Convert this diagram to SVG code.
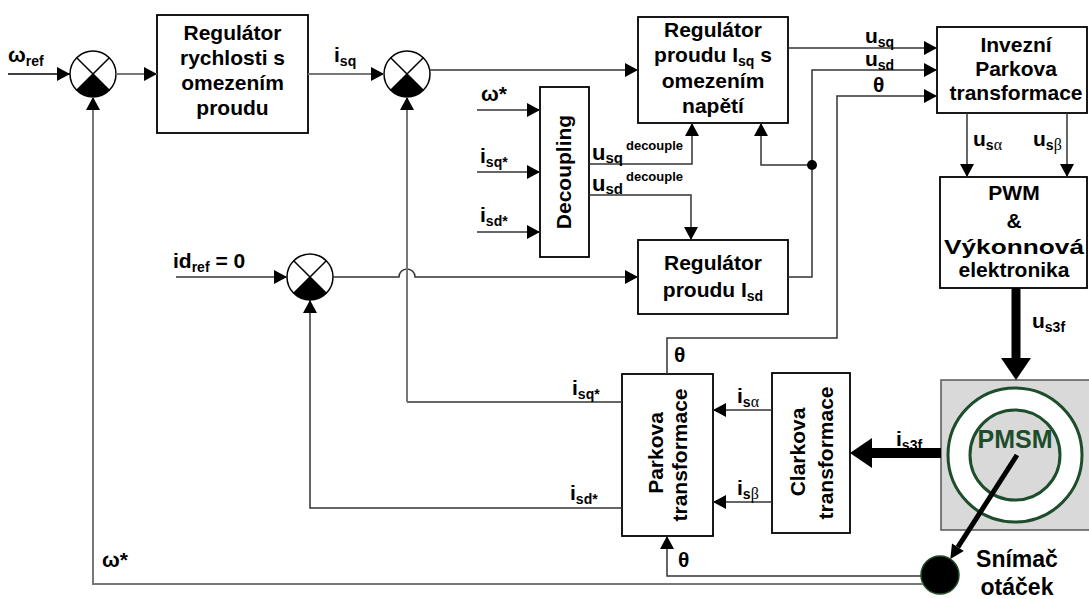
<svg xmlns="http://www.w3.org/2000/svg" xmlns:xlink="http://www.w3.org/1999/xlink" width="1089" height="599" viewBox="0 0 1089 599">
<style>
text{font-family:"Liberation Sans",Arial,sans-serif;font-weight:bold;fill:#000}
.bt{font-size:21px;text-anchor:middle}
.lbl{font-size:21px}
.sub{font-size:14px}
.sup{font-size:13px}
.gr{font-family:"Liberation Serif","Times New Roman",serif;font-weight:normal}
.box{fill:#fff;stroke:#000;stroke-width:1.8}
.c{fill:none;stroke:#333;stroke-width:1.5}
.g{fill:none;stroke:#777;stroke-width:2}
.green{stroke:#1e4d2b}
</style>
<defs>
<marker id="ah" markerUnits="userSpaceOnUse" markerWidth="14" markerHeight="14" refX="13" refY="7" orient="auto" viewBox="0 0 14 14">
<path d="M0,0 L13,7 L0,14 z" fill="#000"/>
</marker>
<g id="sumj">
<circle cx="0" cy="0" r="23" fill="#fff" stroke="#000" stroke-width="1.5"/>
<path d="M0,0 L-16.3,16.3 A23,23 0 0 0 16.3,16.3 Z" fill="#000"/>
<path d="M-16.3,-16.3 L16.3,16.3 M16.3,-16.3 L-16.3,16.3" stroke="#000" stroke-width="1.5"/>
</g>
</defs>

<g id="sum1"><use xlink:href="#sumj" href="#sumj" x="93" y="74"/></g>
<g id="sum2"><use xlink:href="#sumj" href="#sumj" x="407" y="74"/></g>
<g id="sum3"><use xlink:href="#sumj" href="#sumj" x="310" y="277"/></g>

<g id="reg-rychlosti">
<rect class="box" x="157" y="15" width="151" height="118"/>
<text class="bt" x="232.5" y="40">Regulátor</text>
<text class="bt" x="232.5" y="65">rychlosti s</text>
<text class="bt" x="232.5" y="90">omezením</text>
<text class="bt" x="232.5" y="115">proudu</text>
</g>

<g id="reg-isq">
<rect class="box" x="638" y="17" width="150" height="106"/>
<text class="bt" x="713" y="37">Regulátor</text>
<text class="bt" x="713" y="62">proudu I<tspan class="sub" dy="4">sq</tspan><tspan dy="-4"> s</tspan></text>
<text class="bt" x="713" y="88">omezením</text>
<text class="bt" x="713" y="113">napětí</text>
</g>

<g id="decoupling">
<rect class="box" x="540" y="87" width="49" height="170"/>
<text class="bt" transform="translate(571,172) rotate(-90)">Decoupling</text>
</g>

<g id="reg-isd">
<rect class="box" x="638" y="240" width="150" height="74"/>
<text class="bt" x="713" y="270">Regulátor</text>
<text class="bt" x="713" y="297">proudu I<tspan class="sub" dy="4">sd</tspan></text>
</g>

<g id="inv-park">
<rect class="box" x="937" y="27" width="150" height="86"/>
<text class="bt" x="1016" y="52">Invezní</text>
<text class="bt" x="1016" y="76">Parkova</text>
<text class="bt" x="1016" y="100">transformace</text>
</g>

<g id="pwm">
<rect class="box" x="940" y="177" width="147" height="111"/>
<text class="bt" x="1014" y="200">PWM</text>
<text class="bt" x="1014" y="228">&amp;</text>
<text class="bt" x="1014" y="254" textLength="140" lengthAdjust="spacingAndGlyphs">Výkonnová</text>
<text class="bt" x="1014" y="277">elektronika</text>
</g>

<g id="parkova">
<rect class="box" x="622" y="374" width="91" height="162"/>
<text class="bt" transform="translate(663,453) rotate(-90)">Parkova</text>
<text class="bt" transform="translate(687,455) rotate(-90)">transformace</text>
</g>

<g id="clarkova">
<rect class="box" x="772" y="373" width="78" height="160"/>
<text class="bt" transform="translate(805,452) rotate(-90)">Clarkova</text>
<text class="bt" transform="translate(833,453) rotate(-90)">transformace</text>
</g>

<g id="pmsm">
<rect x="941" y="380" width="150" height="150" fill="#d9d9d9" stroke="#555" stroke-width="1.5"/>
<circle cx="1015" cy="455" r="67" fill="#fff" class="green" stroke-width="3"/>
<circle cx="1015" cy="455" r="45" fill="#d9d9d9" class="green" stroke-width="3"/>
<text x="1015" y="448" style="font-size:25px;text-anchor:middle;fill:#1e4d2b">PMSM</text>
</g>

<g id="snimac">
<circle cx="940" cy="575" r="19" fill="#000" class="green" stroke-width="1.5"/>
<text x="1017" y="567" style="font-size:23px;text-anchor:middle">Snímač</text>
<text x="1017" y="595" style="font-size:23px;text-anchor:middle">otáček</text>
</g>

<g id="connectors">
<path class="c" d="M8,74 H70" marker-end="url(#ah)" style="stroke:#000"/>
<path class="g" d="M116,74 H157" marker-end="url(#ah)"/>
<path class="g" d="M308,74 H384" marker-end="url(#ah)"/>
<path class="c" d="M429.6,70 H638" marker-end="url(#ah)"/>
<path class="c" d="M477,110 H540" marker-end="url(#ah)"/>
<path class="c" d="M477,172 H540" marker-end="url(#ah)"/>
<path class="c" d="M477,232 H540" marker-end="url(#ah)"/>
<path class="c" d="M589,164 H692 V123" marker-end="url(#ah)"/>
<path class="c" d="M589,195 H691 V240" marker-end="url(#ah)"/>
<path class="c" d="M176,277 H287" marker-end="url(#ah)"/>
<path class="c" d="M333,277 H399 A8,8 0 0 1 415,277 H638" marker-end="url(#ah)"/>
<path class="c" d="M788,48 H937" marker-end="url(#ah)"/>
<path class="c" d="M788,277 H812 V70 H937" marker-end="url(#ah)"/>
<path class="c" d="M812,165 H761 V123" marker-end="url(#ah)"/>
<circle cx="812" cy="165" r="5" fill="#000"/>
<path class="c" d="M667,374 V338 H837 V96 H937" marker-end="url(#ah)"/>
<path class="c" d="M967,113 V177" marker-end="url(#ah)"/>
<path class="c" d="M1067,113 V177" marker-end="url(#ah)"/>
<path d="M1016,288 V360" stroke="#000" stroke-width="9" fill="none"/>
<polygon points="1001,358 1031,358 1016,380" fill="#000"/>
<path d="M941,453 H870" stroke="#000" stroke-width="10" fill="none"/>
<polygon points="872,438 872,468 850,453" fill="#000"/>
<path class="c" d="M772,410 H713" marker-end="url(#ah)"/>
<path class="c" d="M772,502 H713" marker-end="url(#ah)"/>
<path class="c" d="M622,402 H407"/>
<path class="g" d="M407,402 V97" marker-end="url(#ah)"/>
<path class="c" d="M622,508 H310 V300" marker-end="url(#ah)"/>
<path class="g" d="M923,584 H93 V97" marker-end="url(#ah)"/>
<path class="c" d="M921,576 H667 V536" marker-end="url(#ah)"/>
<path d="M1017,455 L957.9,547.2" stroke="#000" stroke-width="5" fill="none"/>
<polygon points="950.3,559 963.8,551 952,543.4" fill="#000"/>
</g>

<g id="labels">
<text class="lbl" x="8" y="62">ω<tspan class="sub" dy="4">ref</tspan></text>
<text class="lbl" x="334" y="62">i<tspan class="sub" dy="4">sq</tspan></text>
<text class="lbl" x="481" y="101">ω*</text>
<text class="lbl" x="480" y="163">i<tspan class="sub" dy="4">sq*</tspan></text>
<text class="lbl" x="480" y="222">i<tspan class="sub" dy="4">sd*</tspan></text>
<text class="lbl" x="592" y="160" style="font-size:22px">u<tspan class="sub" dy="3" style="font-size:15px">sq</tspan><tspan class="sup" dy="-13" dx="3">decouple</tspan></text>
<text class="lbl" x="592" y="191" style="font-size:22px">u<tspan class="sub" dy="3" style="font-size:15px">sd</tspan><tspan class="sup" dy="-13" dx="3">decouple</tspan></text>
<text class="lbl" x="173" y="268">id<tspan class="sub" dy="4">ref</tspan><tspan dy="-4"> = 0</tspan></text>
<text class="lbl" x="865" y="43">u<tspan class="sub" dy="4">sq</tspan></text>
<text class="lbl" x="865" y="66">u<tspan class="sub" dy="4">sd</tspan></text>
<text class="lbl" x="873" y="92">θ</text>
<text class="lbl" x="973" y="146">u<tspan class="sub" dy="4">s</tspan><tspan class="sub gr" style="font-size:16px">α</tspan></text>
<text class="lbl" x="1033" y="146">u<tspan class="sub" dy="4">s</tspan><tspan class="sub gr" style="font-size:16px">β</tspan></text>
<text class="lbl" x="1032" y="328">u<tspan class="sub" dy="4">s3f</tspan></text>
<text class="lbl" x="896" y="446">i<tspan class="sub" dy="4">s3f</tspan></text>
<text class="lbl" x="674" y="362">θ</text>
<text class="lbl" x="678" y="567">θ</text>
<text class="lbl" x="572" y="395">i<tspan class="sub" dy="4">sq*</tspan></text>
<text class="lbl" x="570" y="500">i<tspan class="sub" dy="4">sd*</tspan></text>
<text class="lbl" x="737" y="403">i<tspan class="sub" dy="4">s</tspan><tspan class="sub gr" style="font-size:16px">α</tspan></text>
<text class="lbl" x="737" y="495">i<tspan class="sub" dy="4">s</tspan><tspan class="sub gr" style="font-size:16px">β</tspan></text>
<text class="lbl" x="102" y="567">ω*</text>
</g>
</svg>
